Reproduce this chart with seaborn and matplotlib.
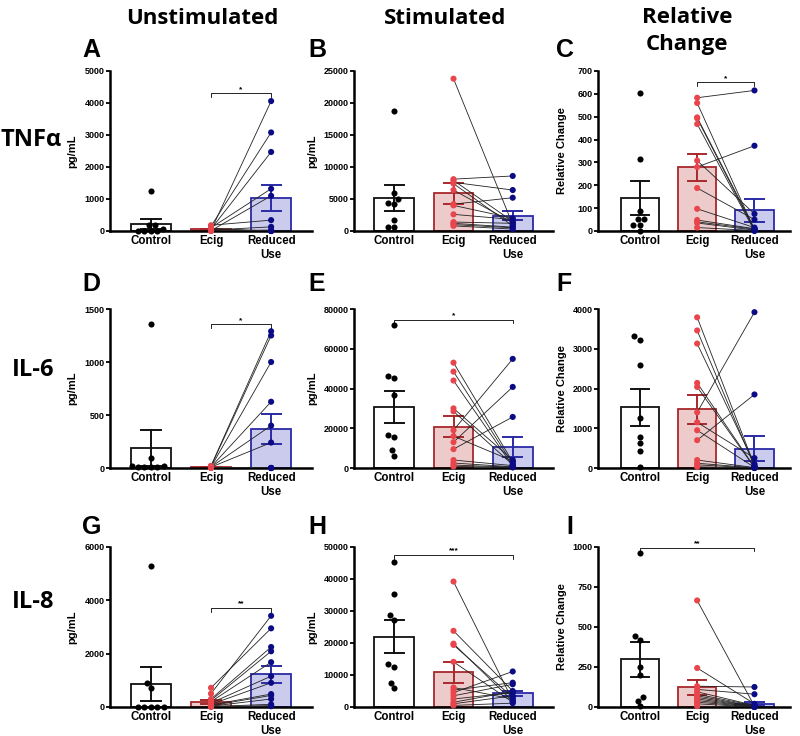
import numpy as np
import pandas as pd
import matplotlib
matplotlib.use("Agg")
import matplotlib.pyplot as plt
import seaborn as sns

# ---------------- data ----------------
groups = ["Control", "Ecig", "Reduced Use"]
group_ticklabels = ["Control", "Ecig", "Reduced\nUse"]
row_labels = ["TNFα", "IL-6", "IL-8"]
col_titles = ["Unstimulated", "Stimulated", "Relative\nChange"]
panel_letters = ["A", "B", "C", "D", "E", "F", "G", "H", "I"]
y_labels = ["pg/mL", "pg/mL", "Relative Change"]

# TNFα
tnf_unstim_control = [1260, 190, 180, 60, 0, 0, 0, 0]
tnf_unstim_ecig = [20, 150, 60, 100, 10, 180, 30, 0, 80, 50, 0, 10]
tnf_unstim_reduced = [4060, 3080, 2470, 1320, 1100, 340, 130, 30, 0, 0, 0, 0]

tnf_stim_control = [18800, 6000, 5000, 4300, 4200, 1700, 700, 600]
tnf_stim_ecig = [23800, 8100, 7900, 7600, 7400, 6400, 4200, 4000, 2600, 1400, 1200, 1000, 800]
tnf_stim_reduced = [1000, 8600, 1500, 6400, 800, 1300, 5200, 2000, 1800, 1200, 600, 500, 300]

tnf_rel_control = [605, 313, 88, 53, 53, 28, 28, 0]
tnf_rel_ecig = [583, 560, 497, 493, 468, 308, 280, 188, 97, 48, 40, 35, 15]
tnf_rel_reduced = [615, 5, 10, 3, 0, 75, 373, 50, 15, 10, 8, 4, 2]

# IL-6
il6_unstim_control = [1360, 90, 15, 15, 10, 10, 5, 5]
il6_unstim_ecig = [20, 15, 10, 10, 10, 8, 5, 5, 5, 5, 3, 2, 0]
il6_unstim_reduced = [1290, 1250, 1000, 625, 400, 240, 0, 0, 0, 0, 0, 0, 0]

il6_stim_control = [71800, 46400, 45200, 36500, 16600, 15400, 8900, 6000]
il6_stim_ecig = [53000, 48500, 44000, 30000, 28500, 19000, 16000, 13000, 9500, 4000, 2500, 1500, 800]
il6_stim_reduced = [3000, 2000, 1000, 4000, 1600, 54900, 3500, 40800, 25700, 1200, 600, 400, 300]

il6_rel_control = [3310, 3230, 2600, 1250, 790, 625, 430, 30]
il6_rel_ecig = [3790, 3460, 3130, 2140, 2040, 1400, 1150, 950, 700, 200, 120, 80, 30]
il6_rel_reduced = [60, 40, 100, 20, 10, 3920, 250, 15, 1850, 10, 5, 0, 0]

# IL-8
il8_unstim_control = [5290, 910, 720, 0, 0, 0, 0, 0]
il8_unstim_ecig = [720, 500, 300, 250, 200, 150, 100, 80, 50, 30, 20, 10, 0]
il8_unstim_reduced = [2950, 3420, 2250, 2090, 1680, 1155, 907, 485, 435, 300, 100, 50, 30]

il8_stim_control = [45300, 35300, 28600, 27300, 13300, 12600, 7600, 6000]
il8_stim_ecig = [39200, 23800, 19800, 19400, 14100, 6100, 5300, 4500, 3500, 2500, 1500, 1000, 500]
il8_stim_reduced = [2000, 5000, 1800, 3000, 1500, 2500, 7600, 11100, 7100, 4500, 4800, 3500, 1200]

il8_rel_control = [960, 443, 420, 250, 202, 60, 40, 4]
il8_rel_ecig = [666, 244, 130, 110, 95, 80, 70, 60, 50, 40, 30, 20, 5]
il8_rel_reduced = [5, 20, 125, 80, 10, 8, 4, 3, 2, 2, 1, 0, 0]

# y ticks
yticks_a = [0, 1000, 2000, 3000, 4000, 5000]
yticks_b = [0, 5000, 10000, 15000, 20000, 25000]
yticks_c = [0, 100, 200, 300, 400, 500, 600, 700]
yticks_d = [0, 500, 1000, 1500]
yticks_e = [0, 20000, 40000, 60000, 80000]
yticks_f = [0, 1000, 2000, 3000, 4000]
yticks_g = [0, 2000, 4000, 6000]
yticks_h = [0, 10000, 20000, 30000, 40000, 50000]
yticks_i = [0, 250, 500, 750, 1000]

# significance (from group, to group, bracket value, label)
sig_a = ("Ecig", "Reduced Use", 4300, "*")
sig_b = None
sig_c = ("Ecig", "Reduced Use", 650, "*")
sig_d = ("Ecig", "Reduced Use", 1354, "*")
sig_e = ("Control", "Reduced Use", 74500, "*")
sig_f = None
sig_g = ("Ecig", "Reduced Use", 3700, "**")
sig_h = ("Control", "Reduced Use", 47400, "***")
sig_i = ("Control", "Reduced Use", 995, "**")

# ---------------- style ----------------
bar_fills = {"Control": "#ffffff", "Ecig": "#f3c5c6", "Reduced Use": "#c5c5f3"}
bar_edges = ["#111111", "#a8282c", "#2a2aa6"]
point_colors = {"Control": "#000000", "Ecig": "#e8464c", "Reduced Use": "#0b0b86"}

plt.rcParams["font.family"] = ["Liberation Sans", "DejaVu Sans"]
plt.rcParams["font.weight"] = "bold"
plt.rcParams["axes.labelweight"] = "bold"

W, H = 800, 736
fig = plt.figure(figsize=(W / 100, H / 100), dpi=100)

rows_px = [(71, 231), (309, 468), (547, 707)]
cols_px = [(110, 312), (354, 553), (598, 790)]
xlims = [(-0.68, 2.68), (-0.68, 2.68), (-0.73, 2.62)]
ylabel_x = [-0.163, -0.186, -0.161]

panels = [
    (tnf_unstim_control, tnf_unstim_ecig, tnf_unstim_reduced, yticks_a, sig_a),
    (tnf_stim_control, tnf_stim_ecig, tnf_stim_reduced, yticks_b, sig_b),
    (tnf_rel_control, tnf_rel_ecig, tnf_rel_reduced, yticks_c, sig_c),
    (il6_unstim_control, il6_unstim_ecig, il6_unstim_reduced, yticks_d, sig_d),
    (il6_stim_control, il6_stim_ecig, il6_stim_reduced, yticks_e, sig_e),
    (il6_rel_control, il6_rel_ecig, il6_rel_reduced, yticks_f, sig_f),
    (il8_unstim_control, il8_unstim_ecig, il8_unstim_reduced, yticks_g, sig_g),
    (il8_stim_control, il8_stim_ecig, il8_stim_reduced, yticks_h, sig_h),
    (il8_rel_control, il8_rel_ecig, il8_rel_reduced, yticks_i, sig_i),
]


def draw_panel(ax, control, ecig, reduced, yticks, sig, col):
    df = pd.DataFrame({
        "group": ["Control"] * len(control) + ["Ecig"] * len(ecig) + ["Reduced Use"] * len(reduced),
        "value": list(control) + list(ecig) + list(reduced),
    })
    n0 = len(ax.lines)
    sns.barplot(data=df, x="group", y="value", hue="group", order=groups, hue_order=groups,
                palette=bar_fills, errorbar="se", capsize=0.32, width=0.67,
                linewidth=1.3, err_kws={"linewidth": 1.4}, legend=False, ax=ax, zorder=1)
    for patch, ec in zip(ax.patches, bar_edges):
        patch.set_edgecolor(ec)
    for line, ec in zip(ax.lines[n0:], bar_edges):
        line.set_color(ec)
        line.set_zorder(2.5)
    # paired lines
    for e, r in zip(ecig, reduced):
        ax.plot([1, 2], [e, r], color="#222222", lw=0.6, zorder=3)
    ctrl_df = df[df["group"] == "Control"]
    sns.swarmplot(data=ctrl_df, x="group", y="value", order=groups, color="black",
                  size=4.4, ax=ax, zorder=4, clip_on=False, warn_thresh=1.0)
    pair_df = df[df["group"] != "Control"]
    sns.stripplot(data=pair_df, x="group", y="value", order=groups, hue="group",
                  hue_order=groups, palette=point_colors, jitter=False, size=4.4,
                  legend=False, ax=ax, zorder=4, clip_on=False)

    ax.set_xlim(*xlims[col])
    ax.set_ylim(0, yticks[-1])
    ax.set_yticks(yticks)
    ax.set_yticklabels([str(t) for t in yticks])
    ax.set_xticks(range(3))
    ax.set_xticklabels(group_ticklabels)
    ax.set_xlabel("")
    ax.set_ylabel(y_labels[col], fontsize=8, fontweight="bold")
    ax.yaxis.set_label_coords(ylabel_x[col], 0.5)
    ax.tick_params(axis="y", length=3, width=1.3, labelsize=6.5, pad=1)
    ax.tick_params(axis="x", length=0, labelsize=8.3, pad=3)
    for lab in ax.get_xticklabels() + ax.get_yticklabels():
        lab.set_fontweight("bold")
    sns.despine(ax=ax)
    for s in ["left", "bottom"]:
        ax.spines[s].set_linewidth(1.8)

    if sig is not None:
        g1, g2, yb, lab = sig
        x1, x2 = groups.index(g1), groups.index(g2)
        tick = yticks[-1] * 0.02
        ax.plot([x1, x1, x2, x2], [yb - tick, yb, yb, yb - tick], color="black",
                lw=0.6, clip_on=False, zorder=5)
        ax.text((x1 + x2) / 2, yb + yticks[-1] * 0.004, lab, ha="center", va="bottom",
                fontsize=6, fontweight="bold")


for i, (control, ecig, reduced, yticks, sig) in enumerate(panels):
    r, c = divmod(i, 3)
    top, bot = rows_px[r]
    left, right = cols_px[c]
    ax = fig.add_axes([left / W, 1 - bot / H, (right - left) / W, (bot - top) / H])
    draw_panel(ax, control, ecig, reduced, yticks, sig, c)

# panel letters
letter_x = [82, 308, 556]
letter_y = [50, 284, 527]
for i, letter in enumerate(panel_letters):
    r, c = divmod(i, 3)
    x = letter_x[c] + (10 if letter == "I" else 0)
    fig.text(x / W, 1 - letter_y[r] / H, letter, ha="left", va="center",
             fontsize=18, fontweight="bold", family=["Liberation Sans", "DejaVu Sans"])

# column titles
col_title_pos = [(202, 19), (445, 19), (687, 31)]
for title, (x, y) in zip(col_titles, col_title_pos):
    fig.text(x / W, 1 - y / H, title, ha="center", va="center", fontsize=16,
             fontweight="bold", family=["Open Sans", "DejaVu Sans"], linespacing=1.35)

# row labels
row_label_pos = [(31, 140), (33, 370), (33, 602)]
for lab, (x, y) in zip(row_labels, row_label_pos):
    fig.text(x / W, 1 - y / H, lab, ha="center", va="center", fontsize=17,
             fontweight="bold", family=["Open Sans", "DejaVu Sans"])

fig.savefig("out.png", dpi=100)
